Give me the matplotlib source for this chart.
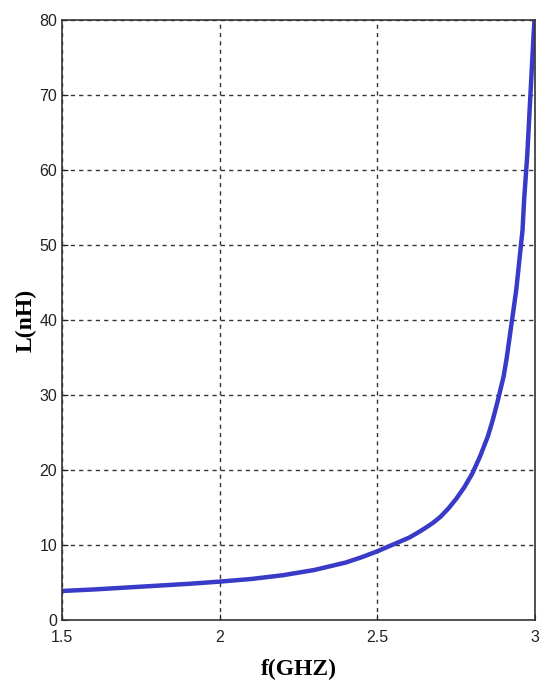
import matplotlib
matplotlib.use("Agg")
import matplotlib.pyplot as plt

freq = [1.5, 1.6, 1.7, 1.8, 1.9, 2.0, 2.1, 2.2, 2.3, 2.4, 2.45, 2.5, 2.55, 2.575, 2.6,
        2.625, 2.65, 2.675, 2.7, 2.725, 2.75, 2.775, 2.8, 2.825, 2.85, 2.865, 2.88,
        2.9, 2.91, 2.92, 2.93, 2.94, 2.95, 2.96, 2.965, 2.975, 2.98, 2.985, 2.99, 2.995, 2.998]
L_nH = [3.9, 4.1, 4.35, 4.6, 4.85, 5.15, 5.5, 6.0, 6.7, 7.7, 8.4, 9.2, 10.1, 10.55, 11.0,
        11.6, 12.25, 12.95, 13.8, 14.9, 16.2, 17.7, 19.5, 21.8, 24.5, 26.6, 29.0,
        32.5, 35.0, 38.0, 41.0, 44.0, 48.0, 52.0, 56.0, 62.0, 66.0, 70.0, 74.0, 78.0, 80.0]
xticks = [1.5, 2, 2.5, 3]
yticks = [0, 10, 20, 30, 40, 50, 60, 70, 80]

fig = plt.figure(figsize=(5.4, 6.93), dpi=100)
ax = fig.add_axes([0.115, 0.105, 0.876, 0.866])
ax.plot(freq, L_nH, color='#3a3ac8', linewidth=3.2, solid_joinstyle='round', clip_on=True)
ax.set_xlim(1.5, 3)
ax.set_ylim(0, 80)
ax.set_xticks(xticks)
ax.set_xticklabels(['1.5', '2', '2.5', '3'])
ax.set_yticks(yticks)
ax.tick_params(direction='in', length=4, labelsize=11.5, colors='#222222')
ax.tick_params(axis='x', pad=7)
for lab in ax.get_xticklabels() + ax.get_yticklabels():
    lab.set_fontfamily('Liberation Sans')
ax.grid(True, color='#333333', linestyle=(0, (3, 3)), linewidth=1.0)
for s in ax.spines.values():
    s.set_color('#333333')
    s.set_linewidth(1.2)
ax.set_xlabel('f(GHZ)', fontfamily='Liberation Serif', fontweight='bold', fontsize=17, labelpad=10)
ax.set_ylabel('L(nH)', fontfamily='Liberation Serif', fontweight='bold', fontsize=17, labelpad=2)
fig.savefig('out.png', dpi=100)
